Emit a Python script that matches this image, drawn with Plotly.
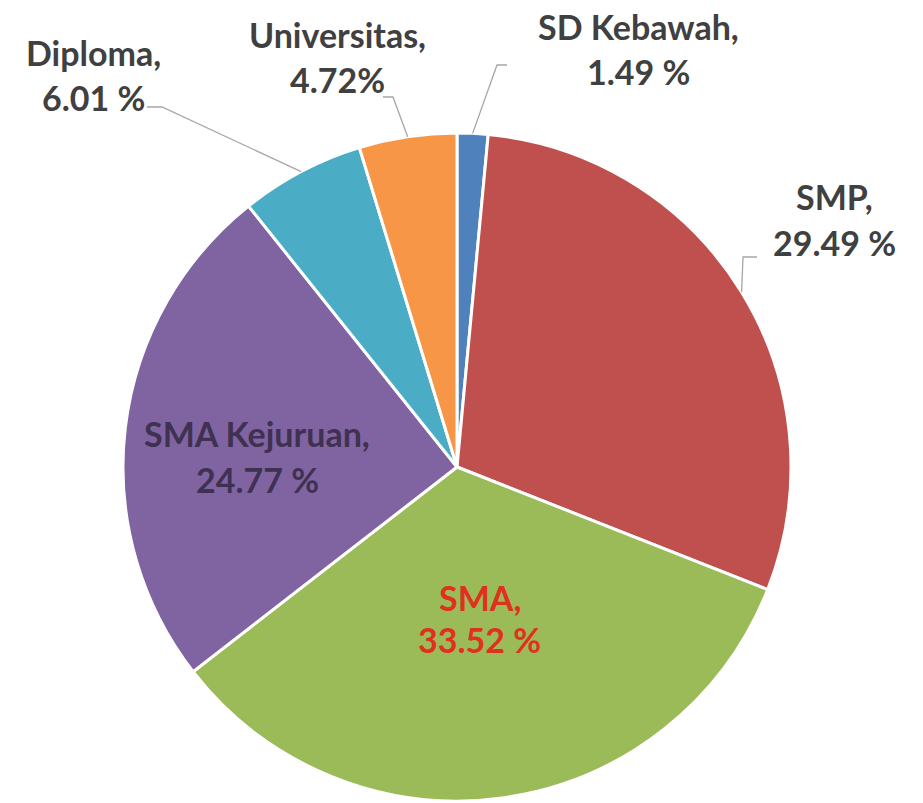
import math
import plotly.graph_objects as go

# ---- data ----
categories = ["SD Kebawah", "SMP", "SMA", "SMA Kejuruan", "Diploma", "Universitas"]
values = [1.49, 29.49, 33.52, 24.77, 6.01, 4.72]
value_labels = ["1.49 %", "29.49 %", "33.52 %", "24.77 %", "6.01 %", "4.72%"]
colors = ["#4F81BD", "#C0504D", "#9BBB59", "#8064A2", "#4BACC6", "#F79646"]

# ---- layout helpers ----
W, H = 923, 803
PIE_LEFT, PIE_RIGHT, PIE_TOP, PIE_BOTTOM = 123, 791, 133, 801  # window pixels
cx = (PIE_LEFT + PIE_RIGHT) / 2
cy = (PIE_TOP + PIE_BOTTOM) / 2
R = (PIE_RIGHT - PIE_LEFT) / 2


def px(x):
    return x / W


def py(y):
    return 1 - y / H


# label placement (pixel centres of the two text lines), colours, leader elbows
label_style = {
    "SD Kebawah": dict(x=638, y1=26, y2=71, color="#404040", elbow=(497, 65), end=(507, 65)),
    "SMP": dict(x=834, y1=197, y2=242, color="#404040", elbow=(743, 257), end=(757, 257)),
    "SMA": dict(x=480, y1=597, y2=639, color="#E0301E", elbow=None, end=None),
    "SMA Kejuruan": dict(x=257, y1=433, y2=480, color="#3F3151", elbow=None, end=None),
    "Diploma": dict(x=93, y1=52, y2=97, color="#404040", elbow=(162, 107), end=(147, 107)),
    "Universitas": dict(x=337, y1=35, y2=80, color="#404040", elbow=(393, 97), end=(383, 97)),
}

FONT = "Lato, 'Open Sans', 'DejaVu Sans', sans-serif"

fig = go.Figure(
    go.Pie(
        labels=categories,
        values=values,
        sort=False,
        direction="clockwise",
        rotation=0,
        marker=dict(colors=colors, line=dict(color="white", width=3)),
        textinfo="none",
        hoverinfo="label+percent",
        showlegend=False,
        domain=dict(
            x=[px(PIE_LEFT), px(PIE_RIGHT)],
            y=[py(PIE_BOTTOM), py(PIE_TOP)],
        ),
    )
)

annotations = []
shapes = []
total = sum(values)
cum = 0.0
for cat, val, vlab in zip(categories, values, value_labels):
    st = label_style[cat]
    for text, yy in ((cat + ",", st["y1"]), (vlab, st["y2"])):
        annotations.append(
            dict(
                x=px(st["x"]), y=py(yy), xref="paper", yref="paper",
                text="<b>" + text + "</b>", showarrow=False,
                xanchor="center", yanchor="middle",
                font=dict(family=FONT, size=34, color=st["color"]),
            )
        )
    mid = 2 * math.pi * (cum + val / 2) / total
    cum += val
    if st["elbow"] is not None:
        ex = cx + R * math.sin(mid)
        ey = cy - R * math.cos(mid)
        (bx, by), (tx, ty) = st["elbow"], st["end"]
        path = "M {} {} L {} {} L {} {}".format(
            px(ex), py(ey), px(bx), py(by), px(tx), py(ty)
        )
        shapes.append(
            dict(type="path", xref="paper", yref="paper", path=path,
                 line=dict(color="#A6A6A6", width=1.3))
        )

fig.update_layout(
    width=W,
    height=H,
    margin=dict(l=0, r=0, t=0, b=0),
    paper_bgcolor="white",
    plot_bgcolor="white",
    annotations=annotations,
    shapes=shapes,
)

# remove the default 8px page margin so the figure fills the window exactly
fig.write_html(
    "out.html",
    config={"displayModeBar": False},
    post_script="document.body.style.margin='0';document.body.style.overflow='hidden';",
)
